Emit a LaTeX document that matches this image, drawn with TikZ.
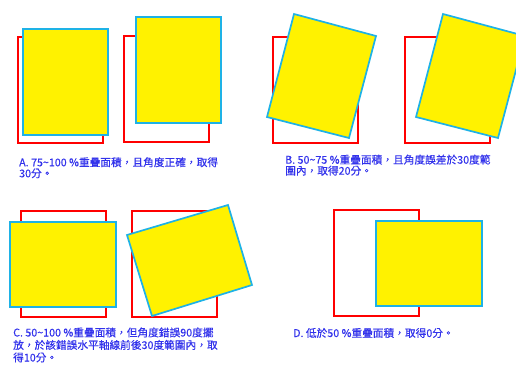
\documentclass[tikz,border=0pt]{standalone}
\usepackage{fontspec}
\newfontfamily\cjk[FakeBold=0.4]{Noto Sans CJK TC}
\usepackage{tikz}
\definecolor{edgecyan}{RGB}{30,178,230}
\definecolor{textblue}{RGB}{50,50,235}
\tikzset{
  target/.style={draw=red, line width=1.6pt},
  paper/.style={draw=edgecyan, fill=yellow, line width=1.7pt, line join=miter},
  caption/.style={anchor=base west, inner sep=0pt, align=left, text=textblue,
    font=\cjk\fontsize{10.7}{11}\selectfont},
  wide lines/.style={font=\cjk\fontsize{10.7}{12.5}\selectfont}
}

\begin{document}
\begin{tikzpicture}[x=1pt, y=-1pt]
      % Sizes
      \pgfmathsetmacro{\rw}{85}
      \pgfmathsetmacro{\rh}{106}
      \useasboundingbox (0,0) rectangle (516,364);
      \clip (0,0) rectangle (516,364);

      % red targets
      \draw[target] (18,37) rectangle ++(\rw,\rh);
      \draw[target] (124,36) rectangle ++(\rw,\rh);
      \draw[target] (273,37) rectangle ++(\rw,\rh);
      \draw[target] (405,37) rectangle ++(\rw,\rh);
      \draw[target] (21,211) rectangle ++(\rw,\rh);
      \draw[target] (132,211) rectangle ++(\rw,\rh);
      \draw[target] (334,210) rectangle ++(\rw,\rh);

      % yellow sheets
      \draw[paper] (23,29) rectangle ++(\rw,\rh);
      \draw[paper] (136,17) rectangle ++(\rw,\rh);
      \draw[paper] (294,14) -- (376,36) -- (349,138) -- (267,117) -- cycle;
      \draw[paper] (443,14) -- (525,36) -- (498,138) -- (416,117) -- cycle;
      \draw[paper] (10,222) rectangle ++(\rh,\rw);
      \draw[paper] (127,235) -- (228,205) -- (252,285) -- (152,316) -- cycle;
      \draw[paper] (376,221) rectangle ++(\rh,\rw);

      % labels (anchored on the last line)
      \node[caption] (capA) at (19,177.3)
        {A. 75\textasciitilde100 \%重疊面積，且角度正確，取得\\30分。};
      \node[caption] (capB) at (285,174.7)
        {B. 50\textasciitilde75 \%重疊面積，且角度誤差於30度範\\圍內，取得20分。};
      \node[caption, wide lines] (capC) at (13,361.5)
        {C. 50\textasciitilde100 \%重疊面積，但角度錯誤90度擺\\放，於該錯誤水平軸線前後30度範圍內，取\\得10分。};
      \node[caption] (capD) at (293,337)
        {D. 低於50 \%重疊面積，取得0分。};
\end{tikzpicture}
\end{document}
